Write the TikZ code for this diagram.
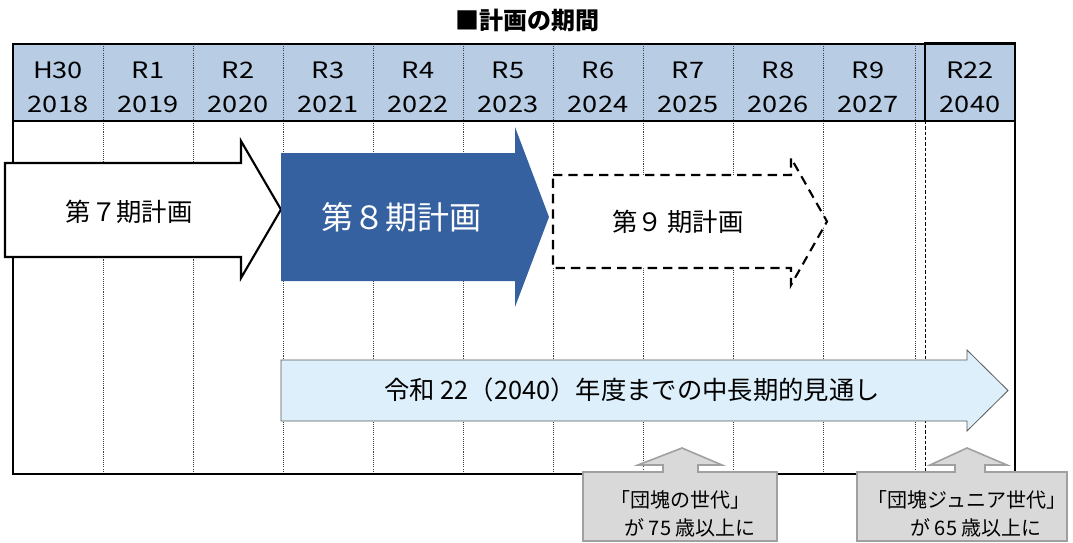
\documentclass[tikz,border=0pt]{standalone}
\usepackage{fontspec}
\setmainfont{Noto Sans CJK JP}
\newfontfamily\hdrfont[FakeStretch=1.2]{Noto Sans CJK JP}
\definecolor{hdrblue}{RGB}{184,204,228}
\definecolor{planblue}{RGB}{53,97,160}
\definecolor{longblue}{RGB}{221,239,250}
\definecolor{callgray}{RGB}{217,217,217}
\definecolor{callline}{RGB}{160,160,160}
\begin{document}
\begin{tikzpicture}[x=0.75pt,y=-0.75pt,
  every node/.style={inner sep=0pt,outer sep=0pt},
  hdrtext/.style={font=\hdrfont\fontsize{17}{19}\selectfont},
  divline/.style={line width=0.6pt,draw=black!75,dash pattern=on 0.8pt off 0.8pt},
  divdash/.style={line width=0.7pt,draw=black,dash pattern=on 2.5pt off 1.5pt},
  frameline/.style={line width=1.8pt,draw=black},
  plantext/.style={font=\fontsize{19}{21}\selectfont},
  arrowseven/.style={draw=black,line width=1.6pt,fill=white,line join=miter},
  arroweight/.style={fill=planblue},
  arrownine/.style={draw=black,line width=1.6pt,fill=white,dash pattern=on 7pt off 4.5pt},
  longarrow/.style={draw=black!65,line width=0.6pt,fill=longblue},
  callout/.style={draw=callline,line width=1.2pt,fill=callgray},
  calltext/.style={font=\fontsize{15}{17}\selectfont}]
\useasboundingbox (0,0) rectangle (1073,542);
% title
\node[font=\bfseries\fontsize{18}{20}\selectfont] (title) at (527,20) {■計画の期間};
% header background
\fill[hdrblue] (13,44) rectangle (1015,121);
% divider lines
\foreach \x in {103,193,283,373,463,553,643,733,823,915}
  \draw[divline] (\x,44) -- (\x,474);
\draw[divdash] (925,121) -- (925,474);
% header labels
\foreach \r/\y [count=\i from 0] in {H30/2018,R1/2019,R2/2020,R3/2021,R4/2022,R5/2023,R6/2024,R7/2025,R8/2026,R9/2027}{
  \node[hdrtext] (era\i) at ({58+90*\i},70) {\r};
  \node[hdrtext] (yr\i) at ({58+90*\i},104) {\y};
}
\node[hdrtext] (era10) at (970,70) {R22};
\node[hdrtext] (yr10) at (970,104) {2040};
\draw[line width=1.5pt] (925,43) rectangle (1015,121);
% frame
\draw[frameline] (13,474) -- (13,44) -- (1015,44) -- (1015,474) -- cycle;
\draw[line width=1.5pt] (13,121) -- (1015,121);
% plan 7
\draw[arrowseven] (5,163) -- (241,163) -- (241,141) -- (281,209.5) -- (241,278) -- (241,257) -- (5,257) -- cycle;
\node[plantext] (p7) at (129,212) {第７期計画};
% plan 8
\fill[arroweight] (281,153) -- (515,153) -- (515,127) -- (549,217) -- (515,307) -- (515,281) -- (281,281) -- cycle;
\node[font=\fontsize{24}{26}\selectfont,text=white] (p8) at (401,217) {第８期計画};
% plan 9
\draw[arrownine] (553,175) -- (791,175) -- (791,158) -- (827,221.5) -- (791,285) -- (791,268) -- (553,268) -- cycle;
\node[plantext] (p9) at (678,222) {第９\,期計画};
% long-term arrow
\draw[longarrow] (281,360) -- (967,360) -- (967,350) -- (1008,390.5) -- (967,431) -- (967,421) -- (281,421) -- cycle;
\node[font=\fontsize{19}{21}\selectfont] (longterm) at (632,390) {令和 22（2040）年度までの中長期的見通し};
% callouts
\draw[callout] (583,472) -- (663,472) -- (663,465) -- (638,465) -- (682,448) -- (722,465) -- (698,465) -- (698,472) -- (777,472) -- (777,541) -- (583,541) -- cycle;
\node[calltext] (c1a) at (680,500) {「団塊の世代」};
\node[calltext] (c1b) at (690,528) {が 75 歳以上に};
\draw[callout] (857,472) -- (955,472) -- (955,465) -- (930,465) -- (967,448) -- (1007,465) -- (985,465) -- (985,472) -- (1067,472) -- (1067,541) -- (857,541) -- cycle;
\node[calltext] (c2a) at (967,500) {「団塊ジュニア世代」};
\node[calltext] (c2b) at (976,528) {が 65 歳以上に};
\end{tikzpicture}
\end{document}
